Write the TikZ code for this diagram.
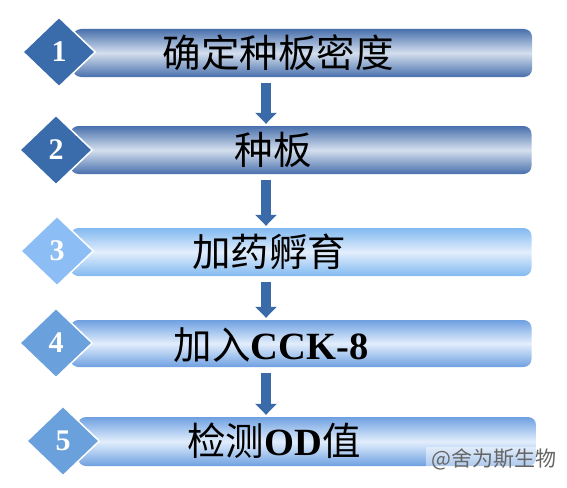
\documentclass[tikz,border=0pt]{standalone}
\usepackage{fontspec}
\setmainfont{Liberation Serif}
\newfontfamily\cjk{Noto Sans CJK SC}
\usetikzlibrary{shapes.geometric,arrows.meta}
\definecolor{deepblue}{RGB}{58,107,170}
\definecolor{paleblue}{RGB}{140,190,245}
\definecolor{midblue}{RGB}{106,160,220}
\definecolor{baredge}{RGB}{72,112,172}
\definecolor{barmid}{RGB}{212,223,238}
\definecolor{bareedge}{RGB}{130,185,240}
\definecolor{barlite}{RGB}{226,238,252}
\definecolor{barmedge}{RGB}{110,160,225}
\definecolor{arrowblue}{RGB}{58,106,168}
\tikzset{
  stepbar/.style={rounded corners=8pt, minimum height=48pt, inner sep=0pt},
  darkbar/.style={stepbar, top color=baredge, bottom color=baredge, middle color=barmid},
  palebar/.style={stepbar, top color=bareedge, bottom color=bareedge, middle color=barlite},
  midbar/.style={stepbar, top color=barmedge, bottom color=barmedge, middle color=barlite},
  numbox/.style={diamond, minimum width=73pt, minimum height=70pt, inner sep=0pt,
    draw=white, line width=1.5pt, text=white, font=\bfseries\fontsize{30}{30}\selectfont},
  steptext/.style={font=\fontsize{38.5}{38.5}\selectfont, text=black},
  flowarrow/.style={draw=arrowblue, line width=10pt, shorten <=6pt, shorten >=2pt,
    -{Triangle[width=21pt,length=11pt]}},
  watermark/.style={fill=white, fill opacity=0.45, text opacity=1, text=black!60,
    inner xsep=6pt, inner ysep=1pt, font=\cjk\fontsize{21}{21}\selectfont}
}
\begin{document}
\begin{tikzpicture}[x=1pt,y=-1pt]
  \useasboundingbox (0,0) rectangle (567,487);
  % bars
  \node[darkbar, minimum width=459pt] (bar1) at (302.5,53) {};
  \node[darkbar, minimum width=461pt] (bar2) at (301,150) {};
  \node[palebar, minimum width=461pt] (bar3) at (301,252) {};
  \node[midbar, minimum width=461pt, minimum height=47pt] (bar4) at (301,343.5) {};
  \node[midbar, minimum width=458pt, minimum height=49pt] (bar5) at (307,441.5) {};
  % step labels
  \node[steptext] (txt1) at (278,53) {\cjk 确定种板密度};
  \node[steptext] (txt2) at (273,150) {\cjk 种板};
  \node[steptext] (txt3) at (269,252) {\cjk 加药孵育};
  \node[steptext] (txt4) at (271,345) {{\cjk 加入}\textbf{CCK-8}};
  \node[steptext] (txt5) at (274,441) {{\cjk 检测}\textbf{OD}{\cjk 值}};
  % numbers
  \node[numbox, fill=deepblue] (num1) at (59,52) {1};
  \node[numbox, fill=deepblue] (num2) at (56,150) {2};
  \node[numbox, fill=paleblue] (num3) at (57,251) {3};
  \node[numbox, fill=midblue] (num4) at (56,343) {4};
  \node[numbox, fill=midblue] (num5) at (63,441) {5};
  % arrows
  \coordinate (ax) at (266,0);
  \draw[flowarrow] (bar1.south -| ax) -- (bar2.north -| ax);
  \draw[flowarrow] (bar2.south -| ax) -- (bar3.north -| ax);
  \draw[flowarrow] (bar3.south -| ax) -- (bar4.north -| ax);
  \draw[flowarrow] (bar4.south -| ax) -- (bar5.north -| ax);
  % mark
  \node[watermark] (mark) at (494,459) {@舍为斯生物};
\end{tikzpicture}
\end{document}
